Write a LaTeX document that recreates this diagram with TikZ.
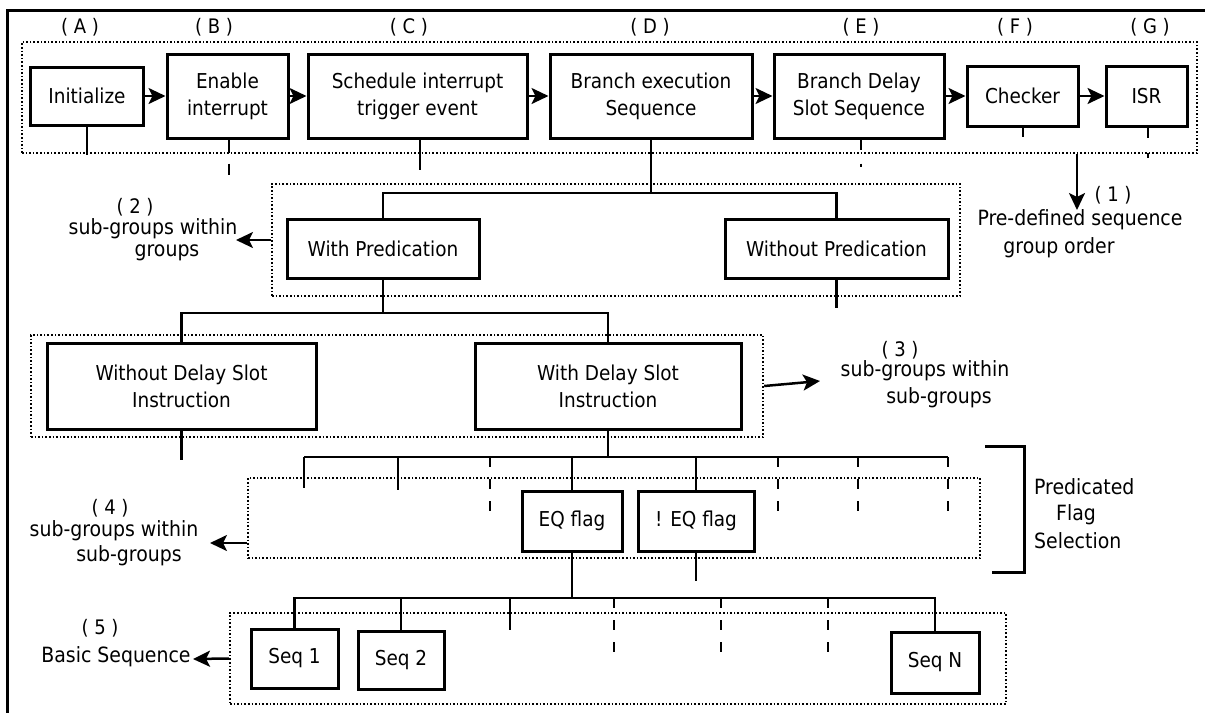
\documentclass[tikz,border=0pt]{standalone}
\usepackage{fontspec}
\setmainfont{DejaVu Sans Condensed}
\usetikzlibrary{arrows.meta}
\begin{document}
\begin{tikzpicture}[x=1pt,y=-1pt,
  box/.style={draw, line width=3pt, align=center, inner sep=0pt,
              font=\fontsize{20.5}{27}\selectfont},
  grp/.style={draw, line width=2.4pt, dash pattern=on 1.6pt off 2pt, inner sep=0pt},
  link/.style={line width=2.5pt},
  arr/.style={line width=2.5pt, -{Stealth[length=17pt,width=16pt,inset=4pt]}},
  brk/.style={line width=2.5pt, dash pattern=on 10pt off 12pt},
  lbl/.style={font=\fontsize{21}{24}\selectfont, inner sep=0pt},
  tag/.style={font=\fontsize{20}{22}\selectfont, inner sep=0pt},
]
\useasboundingbox (0,0) rectangle (1205,713);

% frame
\draw[line width=3pt] (1205,10) -- (7,10) -- (7,713);

% ---------- level (1): top sequence ----------
\node[grp, minimum width=1175pt, minimum height=111pt] (g1) at (609.5,97.5) {};
\node[box, minimum width=113pt, minimum height=58pt] (init)   at (87,96)     {Initialize};
\node[box, minimum width=121pt, minimum height=84pt] (enab)   at (227.5,96)  {Enable\\interrupt};
\node[box, minimum width=219pt, minimum height=84pt] (sched)  at (417.5,96)  {Schedule interrupt\\trigger event};
\node[box, minimum width=202pt, minimum height=84pt] (bexec)  at (651,96)    {Branch execution\\Sequence};
\node[box, minimum width=170pt, minimum height=84pt] (bdelay) at (859,96)    {Branch Delay\\Slot Sequence};
\node[box, minimum width=111pt, minimum height=60pt] (check)  at (1022.5,96) {Checker};
\node[box, minimum width=81pt,  minimum height=60pt] (isr)    at (1146.5,96) {ISR};

\draw[arr] (init) -- (enab);
\draw[arr] (enab) -- (sched);
\draw[arr] (sched) -- (bexec);
\draw[arr] (bexec) -- (bdelay);
\draw[arr] (bdelay) -- (check);
\draw[arr] (check) -- (isr);

\node[tag] (tA) at (80,27)   {( A )};
\node[tag] (tB) at (214,27)  {( B )};
\node[tag] (tC) at (409,27)  {( C )};
\node[tag] (tD) at (650,27)  {( D )};
\node[tag] (tE) at (861,27)  {( E )};
\node[tag] (tF) at (1015,27) {( F )};
\node[tag] (tG) at (1150,27) {( G )};

% stubs under the top row
\coordinate (sA) at (87,155);
\draw[link] (init.south) -- (sA);
\coordinate (sB) at (229,175);
\draw[link, dash pattern=on 13pt off 11pt] (enab.south -| sB) -- (sB);
\coordinate (sC) at (420,170);
\draw[link] (sched.south -| sC) -- (sC);
\coordinate (sE) at (861,167);
\draw[link, dash pattern=on 10pt off 14pt] (bdelay.south -| sE) -- (sE);
\coordinate (sF) at (1023,137);
\draw[link] (check.south -| sF) -- (sF);
\coordinate (sG) at (1148,158);
\draw[link, dash pattern=on 10pt off 15pt] (isr.south -| sG) -- (sG);

% arrow (1)
\coordinate (a1) at (1077,210);
\draw[arr] (g1.south -| a1) -- (a1);
\node[tag] (t1)  at (1113,195) {( 1 )};
\node[lbl] (l1a) at (1080,220) {Pre-defined sequence};
\node[lbl] (l1b) at (1059,248) {group order};

% ---------- level (2) ----------
\node[grp, minimum width=688pt, minimum height=112pt] (g2) at (616,240) {};
\node[box, minimum width=192pt, minimum height=59pt] (wp)  at (383,248.5)   {With Predication};
\node[box, minimum width=223pt, minimum height=59pt] (nwp) at (836.5,248.5) {Without Predication};
\coordinate (b2) at (651,193);
\draw[link] (bexec.south) -- (b2);
\draw[link] (wp.north) |- (nwp.north |- b2) -- (nwp.north);
\coordinate (sP2) at (837,308);
\draw[link] (nwp.south) -- (nwp.south |- sP2);

\coordinate (a2) at (236,240);
\draw[arr] (g2.west) -- (a2);
\node[tag] (t2)  at (135,207) {( 2 )};
\node[lbl] (l2a) at (153,229) {sub-groups within};
\node[lbl] (l2b) at (167,253) {groups};

% ---------- level (3) ----------
\node[grp, minimum width=732pt, minimum height=102pt] (g3) at (397,386) {};
\node[box, minimum width=269pt, minimum height=86pt] (nds) at (181.5,386) {Without Delay Slot\\Instruction};
\node[box, minimum width=266pt, minimum height=86pt] (wds) at (608,386)   {With Delay Slot\\Instruction};
\coordinate (b3) at (383,313);
\draw[link] (wp.south) -- (b3);
\draw[link] (nds.north) |- (wds.north |- b3) -- (wds.north);
\coordinate (sND) at (182,460);
\draw[link] (nds.south) -- (nds.south |- sND);

\coordinate (a3) at (820,381);
\draw[arr] (g3.east) -- (a3);
\node[tag] (t3)  at (900,350) {( 3 )};
\node[lbl] (l3a) at (925,371) {sub-groups within};
\node[lbl] (l3b) at (939,398) {sub-groups};

% ---------- level (4): predicated flags ----------
\node[grp, minimum width=732pt, minimum height=80pt] (g4) at (614,518) {};
\node[box, minimum width=100pt, minimum height=60pt] (eq)  at (572,521) {EQ flag};
\node[box, minimum width=116pt, minimum height=60pt] (neq) at (696,521) {! EQ flag};

\coordinate (b4l) at (304,457);
\coordinate (b4r) at (948,457);
\draw[link] (wds.south) -- (wds.south |- b4l);
\draw[link] (b4l) -- (b4r);
\coordinate (d41) at (304,488);
\coordinate (d42) at (398,490);
\coordinate (d43) at (490,513);
\coordinate (d46) at (778,515);
\coordinate (d47) at (858,515);
\coordinate (d48) at (948,515);
\draw[link] (b4l) -- (d41);
\draw[link] (d42 |- b4l) -- (d42);
\draw[brk]  (d43 |- b4l) -- (d43);
\draw[link] (eq.north |- b4l) -- (eq.north);
\draw[link] (neq.north |- b4l) -- (neq.north);
\draw[brk]  (d46 |- b4l) -- (d46);
\draw[brk]  (d47 |- b4l) -- (d47);
\draw[brk]  (b4r) -- (d48);

% bracket
\coordinate (k1) at (985,446);
\coordinate (k2) at (1024,446);
\coordinate (k3) at (1024,572);
\coordinate (k4) at (992,572);
\draw[line width=3pt] (k1) -- (k2) -- (k3) -- (k4);
\node[lbl, anchor=west] (pf1) at (1034,487) {Predicated};
\node[lbl, anchor=west] (pf2) at (1056,515) {Flag};
\node[lbl, anchor=west] (pf3) at (1034,541) {Selection};

\coordinate (a4) at (210,543);
\draw[arr] ([yshift=-25pt]g4.west) -- (a4);
\node[tag] (t4)  at (110,508) {( 4 )};
\node[lbl] (l4a) at (114,531) {sub-groups within};
\node[lbl] (l4b) at (129,556) {sub-groups};

% ---------- level (5): basic sequences ----------
\node[grp, minimum width=776pt, minimum height=91pt] (g5) at (618,658.5) {};
\node[box, minimum width=87pt, minimum height=59pt] (s1) at (294.5,658.5) {Seq 1};
\node[box, minimum width=86pt, minimum height=58pt] (s2) at (401,660)     {Seq 2};
\node[box, minimum width=88pt, minimum height=61pt] (sn) at (935,662.5)   {Seq N};

\coordinate (b5) at (572,598);
\draw[link] (eq.south) -- (b5);
\coordinate (sNQ) at (695,581);
\draw[link] (neq.south) -- (neq.south |- sNQ);
\draw[link] (s1.north) |- (sn.north |- b5) -- (sn.north);
\draw[link] (s2.north |- b5) -- (s2.north);
\coordinate (d53) at (510,630);
\coordinate (d54) at (614,652);
\coordinate (d55) at (721,652);
\coordinate (d56) at (828,652);
\draw[link] (d53 |- b5) -- (d53);
\draw[brk]  (d54 |- b5) -- (d54);
\draw[brk]  (d55 |- b5) -- (d55);
\draw[brk]  (d56 |- b5) -- (d56);

\coordinate (a5) at (193,659);
\draw[arr] (g5.west) -- (a5);
\node[tag] (t5)  at (100,628) {( 5 )};
\node[lbl] (l5a) at (116,657) {Basic Sequence};
\end{tikzpicture}
\end{document}
